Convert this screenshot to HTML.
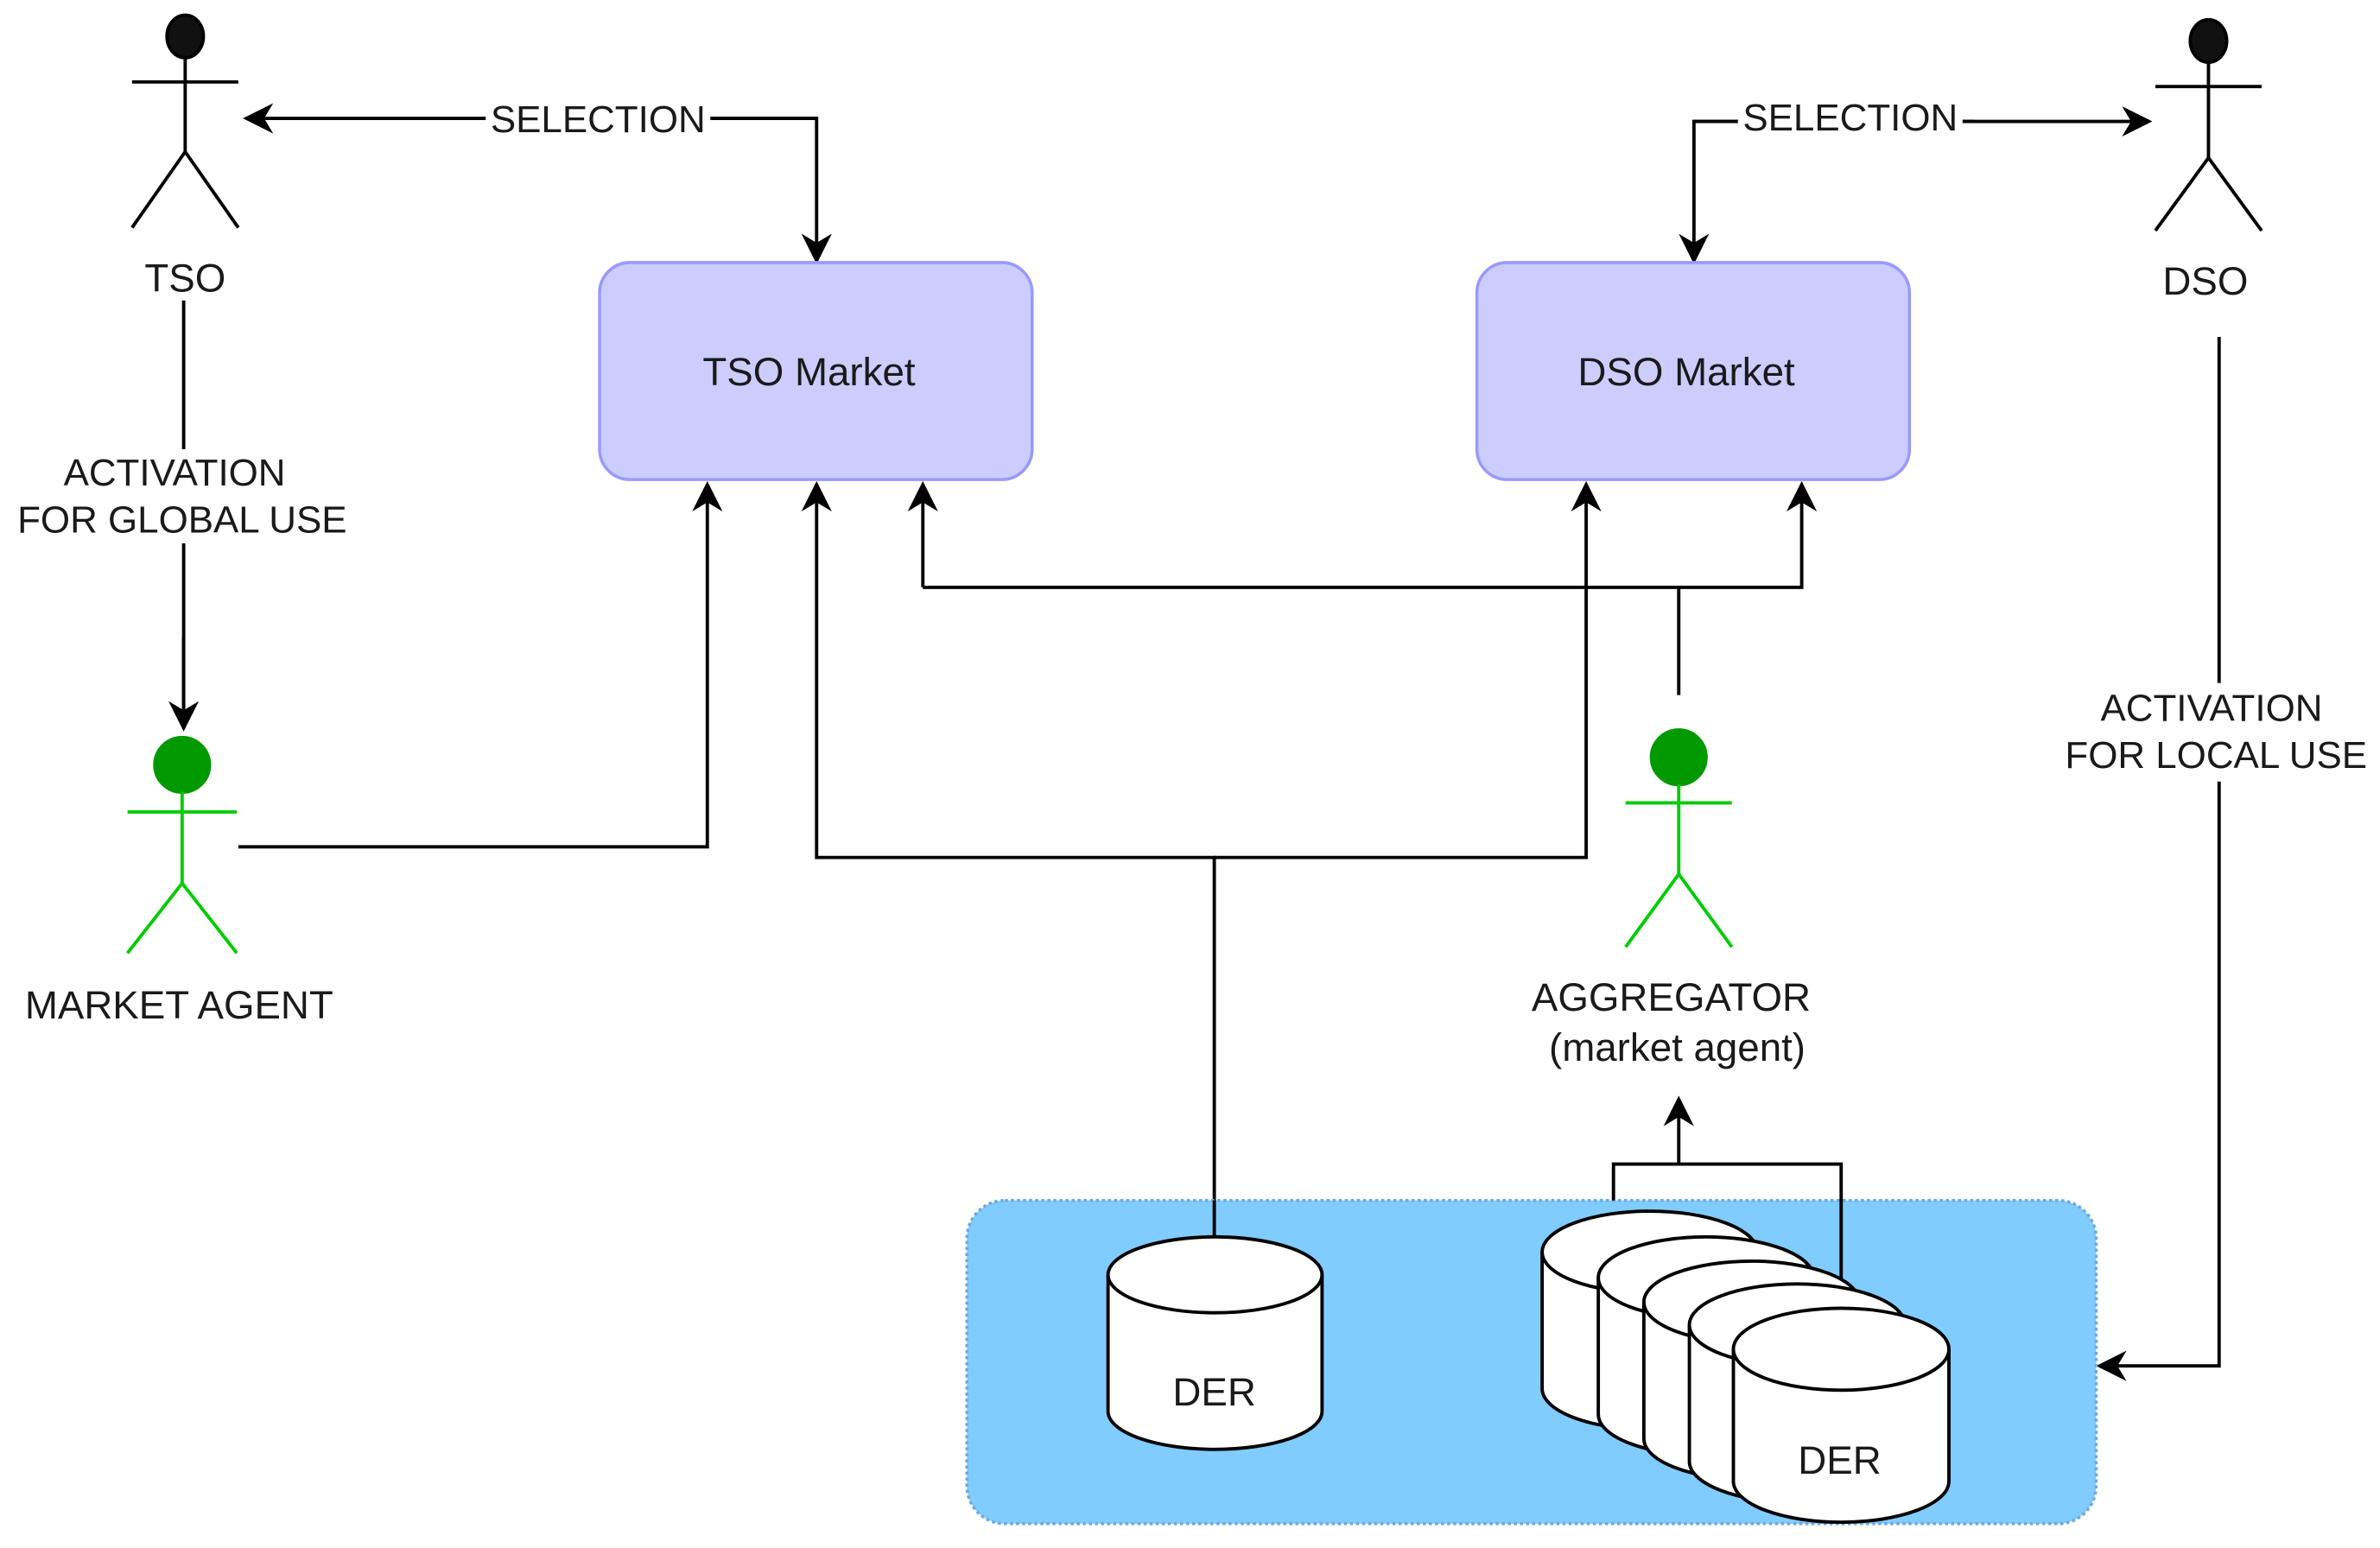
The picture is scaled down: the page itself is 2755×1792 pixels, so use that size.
<!DOCTYPE html>
<html><head><meta charset="utf-8"><style>html,body{margin:0;padding:0;background:#fff}svg{display:block}</style></head>
<body>
<svg width="2755" height="1792" viewBox="0 0 1568 1020" preserveAspectRatio="none" xmlns="http://www.w3.org/2000/svg" font-family="Liberation Sans, sans-serif" font-size="25" fill="#1a1a1a">
<defs>
<marker id="a" viewBox="0 0 20 20" refX="18" refY="10" markerWidth="20" markerHeight="20" markerUnits="userSpaceOnUse" orient="auto"><path d="M0,0 L20,10 L0,20 L6,10 Z" fill="#000"/></marker>
</defs>
<g stroke="#000" stroke-width="2.2" fill="none">
<!-- TSO actor -->
<ellipse cx="122" cy="24" rx="12" ry="14" fill="#111"/>
<path d="M122 38V100M87 54H157M87 150L122 100L157 150"/>
<!-- DSO actor -->
<ellipse cx="1455" cy="27" rx="12" ry="14" fill="#111"/>
<path d="M1455 41V104M1420 57H1490M1420 152L1455 104L1490 152"/>
<!-- selection lines -->
<path d="M538 78H162" marker-end="url(#a)"/>
<path d="M320 78H538V172" marker-end="url(#a)"/>
<path d="M1116 80H1416" marker-end="url(#a)"/>
<path d="M1300 80H1116V172" marker-end="url(#a)"/>
<!-- activation global -->
<path d="M121 198V296M121 358V480" />
<path d="M121 420V480" marker-end="url(#a)"/>
<!-- market agent to TSO -->
<path d="M157 558H466V319" marker-end="url(#a)"/>
<!-- DER single -->
<path d="M800 815V565H538V319" marker-end="url(#a)"/>
<path d="M800 565H1045V319" marker-end="url(#a)"/>
<path d="M608 387V319" marker-end="url(#a)"/>
<path d="M608 387H1187V319" marker-end="url(#a)"/>
<path d="M1106 458V387"/>
<!-- activation local -->
<path d="M1462 222V450M1462 515V900H1383" marker-end="url(#a)"/>
</g>
<!-- market boxes -->
<rect x="395" y="173" width="285" height="143" rx="20" fill="#ccccff" stroke="#9999ff" stroke-width="2"/>
<rect x="973" y="173" width="285" height="143" rx="20" fill="#ccccff" stroke="#9999ff" stroke-width="2"/>
<text x="533" y="254" text-anchor="middle" font-size="26">TSO Market</text>
<text x="1111" y="254" text-anchor="middle" font-size="26">DSO Market</text>
<!-- labels -->
<rect x="320" y="64" width="148" height="28" fill="#fff"/>
<text x="394" y="87" text-anchor="middle">SELECTION</text>
<rect x="1145" y="63" width="148" height="28" fill="#fff"/>
<text x="1219" y="86" text-anchor="middle">SELECTION</text>
<text x="122" y="192" text-anchor="middle" font-size="26">TSO</text>
<text x="1453" y="194" text-anchor="middle" font-size="26">DSO</text>
<text x="115" y="320" text-anchor="middle">ACTIVATION</text>
<text x="120" y="351" text-anchor="middle">FOR GLOBAL USE</text>
<text x="1457" y="475" text-anchor="middle">ACTIVATION</text>
<text x="1460" y="506" text-anchor="middle">FOR LOCAL USE</text>
<!-- green actors -->
<g stroke="#00cc00" stroke-width="2.2" fill="none">
<circle cx="120" cy="504" r="18" fill="#009900" stroke="#009900"/>
<path d="M120 522V582M84 535H156M84 628L120 582L156 628"/>
<circle cx="1106" cy="499" r="18" fill="#009900" stroke="#009900"/>
<path d="M1106 517V576M1071 529H1141M1071 624L1106 576L1141 624"/>
</g>
<text x="118" y="671" text-anchor="middle" font-size="26">MARKET AGENT</text>
<text x="1101" y="666" text-anchor="middle" font-size="26">AGGREGATOR</text>
<text x="1105" y="699" text-anchor="middle" font-size="26">(market agent)</text>
<!-- aggregator arrow + bracket -->
<g stroke="#000" stroke-width="2.2" fill="none">
<path d="M1106 767V724" marker-end="url(#a)"/>
</g>
<!-- blue region -->
<rect x="637" y="791" width="744" height="213" rx="25" fill="#80ccff" stroke="#6fa8dc" stroke-width="2" stroke-dasharray="2 2"/>
<path d="M800 791V815" stroke="#000" stroke-width="2.2"/>
<path d="M1063 791V767H1213V848" stroke="#000" stroke-width="2.2" fill="none"/>
<!-- cylinders -->
<g stroke="#000" stroke-width="2.2" fill="#fff">
<path d="M730 840V930A70.5 25 0 0 0 871 930V840A70.5 25 0 0 0 730 840Z"/>
<path d="M730 840A70.5 25 0 0 0 871 840" fill="none"/>
<path d="M1016 825V915A71 27 0 0 0 1158 915V825A71 27 0 0 0 1016 825Z"/>
<path d="M1016 825A71 27 0 0 0 1158 825" fill="none"/>
<path d="M1053 842V932A71 27 0 0 0 1195 932V842A71 27 0 0 0 1053 842Z"/>
<path d="M1053 842A71 27 0 0 0 1195 842" fill="none"/>
<path d="M1083 858V948A71 27 0 0 0 1225 948V858A71 27 0 0 0 1083 858Z"/>
<path d="M1083 858A71 27 0 0 0 1225 858" fill="none"/>
<path d="M1113 873V963A71 27 0 0 0 1255 963V873A71 27 0 0 0 1113 873Z"/>
<path d="M1113 873A71 27 0 0 0 1255 873" fill="none"/>
<path d="M1142 889V976A71 27 0 0 0 1284 976V889A71 27 0 0 0 1142 889Z"/>
<path d="M1142 889A71 27 0 0 0 1284 889" fill="none"/>
</g>
<text x="800" y="926" text-anchor="middle" font-size="26">DER</text>
<text x="1212" y="971" text-anchor="middle" font-size="26">DER</text>
</svg>
</body></html>
